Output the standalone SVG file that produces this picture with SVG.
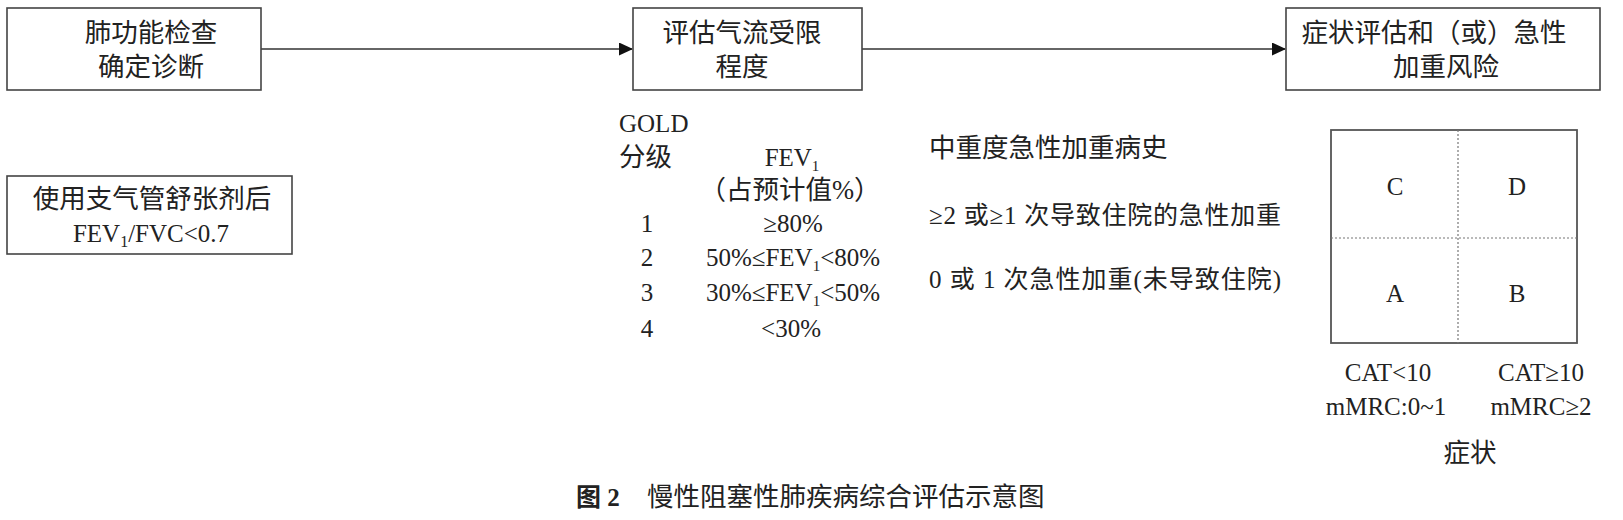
<svg xmlns="http://www.w3.org/2000/svg" width="1623" height="520" viewBox="0 0 1623 520">
<style>
  .box{fill:#fff;stroke:#444;stroke-width:1.6}
  .t{font-family:"Liberation Serif","Noto Sans CJK SC",serif;font-size:25px;fill:#222}
  .k{font-size:26.5px}
  .c{text-anchor:middle}
  .grid{fill:none;stroke:#555;stroke-width:1.8}
  .dot{stroke:#777;stroke-width:1.2;stroke-dasharray:2 2}
  .conn{stroke:#333;stroke-width:1.5;fill:none}
</style>
<defs>
  <marker id="arr" markerWidth="14" markerHeight="14" refX="13" refY="6.5" orient="auto" markerUnits="userSpaceOnUse">
    <path d="M0,0 L14,6.5 L0,13 Z" fill="#111"/>
  </marker>
</defs>
<rect width="1623" height="520" fill="#fff"/>

<g id="connectors">
  <line class="conn" x1="261" y1="49" x2="632" y2="49" marker-end="url(#arr)"/>
  <line class="conn" x1="862" y1="49" x2="1285" y2="49" marker-end="url(#arr)"/>
</g>

<g id="node-diagnosis">
  <rect class="box" x="7" y="8" width="254" height="82"/>
  <text class="t k c" x="151" y="42">肺功能检查</text>
  <text class="t k c" x="151" y="76">确定诊断</text>
</g>

<g id="node-airflow">
  <rect class="box" x="633" y="8" width="229" height="82"/>
  <text class="t k c" x="742" y="42">评估气流受限</text>
  <text class="t k c" x="742" y="76">程度</text>
</g>

<g id="node-risk">
  <rect class="box" x="1286" y="8" width="314" height="82"/>
  <text class="t k c" x="1434" y="42">症状评估和（或）急性</text>
  <text class="t k c" x="1446" y="76">加重风险</text>
</g>

<g id="node-criteria">
  <rect class="box" x="7" y="176" width="285" height="78"/>
  <text class="t k c" x="152" y="208">使用支气管舒张剂后</text>
  <text class="t c" x="151" y="242" font-size="26.5">FEV<tspan font-size="16" dy="5">1</tspan><tspan dy="-5">/FVC&lt;0.7</tspan></text>
</g>

<g id="gold-table">
  <text class="t" x="619" y="132">GOLD</text>
  <text class="t k" x="619" y="166">分级</text>
  <text class="t c" x="792" y="166">FEV<tspan font-size="15" dy="5">1</tspan></text>
  <text class="t k c" x="790" y="199">（占预计值%）</text>
  <text class="t c" x="647" y="232">1</text>
  <text class="t c" x="793" y="232">≥80%</text>
  <text class="t c" x="647" y="266">2</text>
  <text class="t c" x="793" y="266" font-size="26">50%≤FEV<tspan font-size="15" dy="5">1</tspan><tspan dy="-5">&lt;80%</tspan></text>
  <text class="t c" x="647" y="301">3</text>
  <text class="t c" x="793" y="301" font-size="26">30%≤FEV<tspan font-size="15" dy="5">1</tspan><tspan dy="-5">&lt;50%</tspan></text>
  <text class="t c" x="647" y="337">4</text>
  <text class="t c" x="791" y="337" font-size="26">&lt;30%</text>
</g>

<g id="exacerbation-labels">
  <text class="t k" x="929" y="157">中重度急性加重病史</text>
  <text class="t" x="929" y="224" font-size="26" textLength="352" lengthAdjust="spacing">≥2 或≥1 次导致住院的急性加重</text>
  <text class="t" x="929" y="288" font-size="26" textLength="352" lengthAdjust="spacing">0 或 1 次急性加重(未导致住院)</text>
</g>

<g id="abcd-grid">
  <rect class="grid" x="1331" y="130" width="246" height="213"/>
  <line class="dot" x1="1458" y1="130" x2="1458" y2="343"/>
  <line class="dot" x1="1331" y1="238" x2="1577" y2="238"/>
  <text class="t c" x="1395" y="195">C</text>
  <text class="t c" x="1517" y="195">D</text>
  <text class="t c" x="1395" y="302">A</text>
  <text class="t c" x="1517" y="302">B</text>
  <text class="t c" x="1388" y="381" font-size="26">CAT&lt;10</text>
  <text class="t c" x="1386" y="415" font-size="26">mMRC:0~1</text>
  <text class="t c" x="1541" y="381" font-size="26">CAT≥10</text>
  <text class="t c" x="1541" y="415" font-size="26">mMRC≥2</text>
  <text class="t k c" x="1470" y="462">症状</text>
</g>

<g id="caption">
  <text class="t" x="576" y="506" font-weight="bold">图 2</text>
  <text class="t k" x="647" y="506">慢性阻塞性肺疾病综合评估示意图</text>
</g>
</svg>
